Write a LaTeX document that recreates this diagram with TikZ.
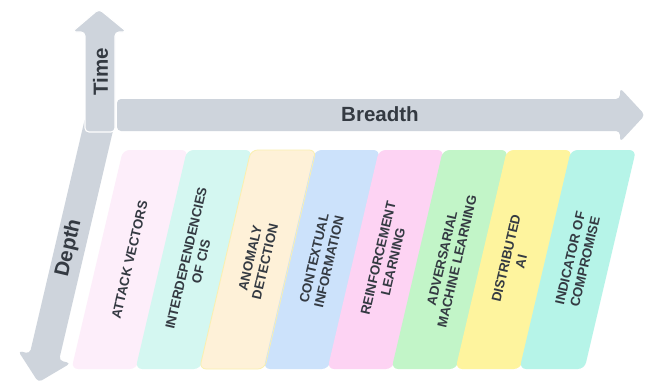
\documentclass[tikz,border=0pt]{standalone}
\usepackage{fontspec}
\setmainfont{Liberation Sans}
\definecolor{arrowgray}{HTML}{CED4DC}
\definecolor{txt}{HTML}{343A42}
\definecolor{c1}{HTML}{FDEEFA}
\definecolor{c2}{HTML}{D4F7F1}
\definecolor{c3}{HTML}{FEF1D8}
\definecolor{c4}{HTML}{CCE2FB}
\definecolor{c5}{HTML}{FDD3F3}
\definecolor{c6}{HTML}{C2F5C8}
\definecolor{c7}{HTML}{FEF49E}
\definecolor{c8}{HTML}{B6F4E8}
\begin{document}
\begin{tikzpicture}[x=0.75pt,y=-0.75pt,
  arrowshape/.style={fill=arrowgray, rounded corners=3pt},
  cardshape/.style={rounded corners=5pt},
  axislabel/.style={font=\fontsize{15.4}{18}\selectfont\bfseries, text=txt, inner sep=0pt},
  cardtext/.style={font=\fontsize{10}{11.5}\selectfont\bfseries, text=txt, align=center, rotate=76.8, inner sep=0pt}]
\path[use as bounding box, fill=white] (0,0) rectangle (646,383);
% depth arrow
\fill[arrowshape] (85.4,116.6) -- (114.7,123.4) -- (59.0,360.4) -- (70.7,363.2) -- (38.4,382.3) -- (18.1,350.8) -- (29.8,353.6) -- cycle;
% breadth arrow
\fill[arrowshape] (117,99) -- (620,99) -- (620,88) -- (645,115) -- (620,142) -- (620,131) -- (117,131) -- cycle;
% time arrow
\filldraw[arrowshape, draw=white, line width=0.8pt] (85,132) -- (85,32) -- (72,32) -- (99,9) -- (127,32) -- (115,32) -- (115,132) -- cycle;
\node[axislabel, rotate=90] (time) at (100.5,71.5) {Time};
\node[axislabel] (breadth) at (380,114.5) {Breadth};
\node[axislabel, rotate=76.8] (depth) at (69,248) {Depth};
% cards
\foreach \x/\c/\n/\t in {
  123/c1/av/{ATTACK VECTORS},
  187/c2/ic/{INTERDEPENDENCIES\\OF CIS},
  251/c3/ad/{ANOMALY\\DETECTION},
  315/c4/ci/{CONTEXTUAL\\INFORMATION},
  379/c5/rl/{REINFORCEMENT\\LEARNING},
  443/c6/am/{ADVERSARIAL\\MACHINE LEARNING},
  507/c7/da/{DISTRIBUTED\\AI},
  571/c8/io/{INDICATOR OF\\COMPROMISE}} {
  \fill[cardshape, \c] (\x,150) -- (\x+65,150) -- (\x+13.5,369) -- (\x-51.5,369) -- cycle;
  \node[cardtext] (\n) at (\x+6.6,260) {\t};
}
\draw[cardshape, draw={rgb,255:red,250;green,240;blue,176}, line width=0.6pt] (251,150) -- (316,150) -- (264.5,369) -- (199.5,369) -- cycle;
\end{tikzpicture}
\end{document}
